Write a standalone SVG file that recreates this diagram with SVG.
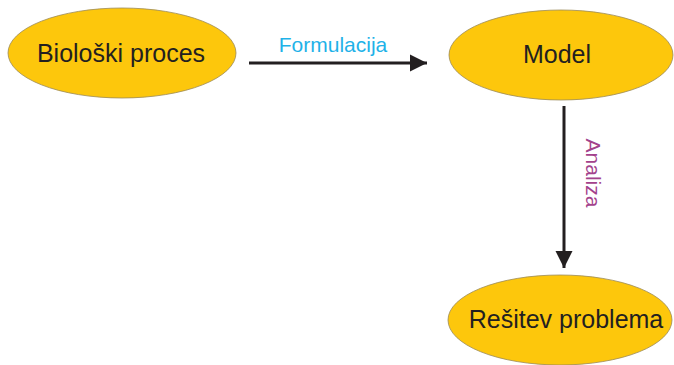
<svg xmlns="http://www.w3.org/2000/svg" width="674" height="365" viewBox="0 0 674 365">
<style>
.node ellipse{fill:#fdc70c;stroke:#9a8a5a;stroke-width:0.8}
.node text{font-family:"Liberation Sans",Arial,sans-serif;font-size:25px;fill:#231f20;text-anchor:middle}
.conn line{stroke:#231f20;stroke-width:3}
.lbl{font-family:"Liberation Sans",Arial,sans-serif;font-size:21px;text-anchor:middle}
</style>
<defs>
<marker id="ah" viewBox="0 0 10 10" refX="10" refY="5" markerWidth="5.7" markerHeight="5.7" markerUnits="strokeWidth" orient="auto">
<path d="M0,0 L10,5 L0,10 z" fill="#231f20"/>
</marker>
</defs>
<g id="n1" class="node">
<ellipse cx="122" cy="53" rx="114" ry="45"/>
<text x="121" y="62">Biološki proces</text>
</g>
<g id="n2" class="node">
<ellipse cx="561" cy="55" rx="112" ry="45"/>
<text x="557" y="63">Model</text>
</g>
<g id="n3" class="node">
<ellipse cx="560" cy="320" rx="112" ry="45"/>
<text x="566" y="328">Rešitev problema</text>
</g>
<g id="connectors" class="conn">
<line x1="249" y1="63" x2="427" y2="63" marker-end="url(#ah)"/>
<line x1="564" y1="106" x2="564" y2="268" marker-end="url(#ah)"/>
<text class="lbl" x="333" y="52" fill="#1fb2e8">Formulacija</text>
<text class="lbl" x="0" y="0" fill="#a3428c" transform="translate(586,173) rotate(90)">Analiza</text>
</g>
</svg>
